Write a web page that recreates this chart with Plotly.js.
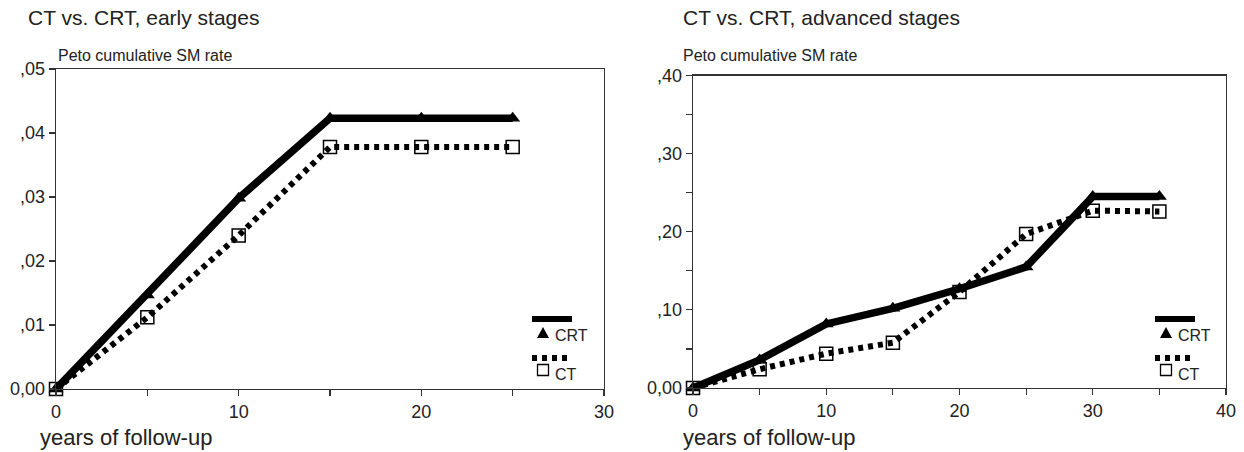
<!DOCTYPE html>
<html>
<head>
<meta charset="utf-8">
<script src="https://cdn.plot.ly/plotly-3.0.1.min.js"></script>
<style>html,body{margin:0;padding:0;background:#fff;}#chart{width:1244px;height:452px;}</style>
</head>
<body>
<div id="chart"></div>
<script>
// ---- data ----
const yearsEarly = [0, 5, 10, 15, 20, 25];
const crtEarly = [0, 0.0147, 0.0298, 0.0423, 0.0423, 0.0423];
const ctEarly  = [0, 0.0112, 0.0240, 0.0378, 0.0378, 0.0378];

const yearsAdv = [0, 5, 10, 15, 20, 25, 30, 35];
const crtAdv = [0, 0.036, 0.082, 0.102, 0.127, 0.155, 0.245, 0.245];
const ctAdv  = [0, 0.024, 0.044, 0.058, 0.123, 0.197, 0.227, 0.226];

const xTickValsEarly = [0, 5, 10, 15, 20, 25, 30];
const xTickTextEarly = ["0", "", "10", "", "20", "", "30"];
const xTickValsAdv = [0, 5, 10, 15, 20, 25, 30, 35, 40];
const xTickTextAdv = ["0", "", "10", "", "20", "", "30", "", "40"];
const yTickValsEarly = [0, 0.01, 0.02, 0.03, 0.04, 0.05];
const yTickTextEarly = ["0,00", ",01", ",02", ",03", ",04", ",05"];
const yTickValsAdv = [0, 0.05, 0.10, 0.15, 0.20, 0.25, 0.30, 0.35, 0.40];
const yTickTextAdv = ["0,00", "", ",10", "", ",20", "", ",30", "", ",40"];

const titles = ["CT vs. CRT, early stages", "CT vs. CRT, advanced stages"];
const yTitle = "Peto cumulative SM rate";
const xTitle = "years of follow-up";
const seriesNames = ["CRT", "CT"];

// ---- geometry helpers ----
const W = 1244, H = 452;
const px = x => x / W;
const py = y => 1 - y / H;
const FONT = "Liberation Sans, Arial, sans-serif";

function crtTrace(x, y, xa, ya) {
  return {x: x, y: y, xaxis: xa, yaxis: ya, type: 'scatter', mode: 'lines+markers',
    name: seriesNames[0], showlegend: false, cliponaxis: false,
    line: {color: '#000', width: 7.5},
    marker: {symbol: 'triangle-up', size: 13, color: '#000'}};
}
function ctTrace(x, y, xa, ya) {
  return {x: x, y: y, xaxis: xa, yaxis: ya, type: 'scatter', mode: 'lines+markers',
    name: seriesNames[1], showlegend: false, cliponaxis: false,
    line: {color: '#000', width: 6, dash: '5px,5px'},
    marker: {symbol: 'square-open', size: 13, color: '#000', line: {width: 1.5, color: '#000'}}};
}

const data = [
  crtTrace(yearsEarly, crtEarly, 'x', 'y'),
  ctTrace(yearsEarly, ctEarly, 'x', 'y'),
  crtTrace(yearsAdv, crtAdv, 'x2', 'y2'),
  ctTrace(yearsAdv, ctAdv, 'x2', 'y2')
];

const axisBase = {
  showline: true, mirror: true, linecolor: '#333', linewidth: 1.3,
  showgrid: false, zeroline: false, ticks: 'outside', ticklen: 6, tickwidth: 1.2, tickcolor: '#333',
  tickmode: 'array', tickfont: {family: FONT, size: 18, color: '#222'}, fixedrange: true
};

const layout = {
  width: W, height: H,
  margin: {l: 0, r: 0, t: 0, b: 0},
  paper_bgcolor: '#fff', plot_bgcolor: '#fff',
  showlegend: false,
  font: {family: FONT, color: '#222'},
  xaxis: Object.assign({}, axisBase, {domain: [px(56), px(604)], range: [0, 30], anchor: 'y',
    tickvals: xTickValsEarly, ticktext: xTickTextEarly}),
  yaxis: Object.assign({}, axisBase, {domain: [1 - 389 / H, 1 - 69 / H], range: [0, 0.05], anchor: 'x',
    tickvals: yTickValsEarly, ticktext: yTickTextEarly}),
  xaxis2: Object.assign({}, axisBase, {domain: [px(693), px(1226)], range: [0, 40], anchor: 'y2',
    tickvals: xTickValsAdv, ticktext: xTickTextAdv}),
  yaxis2: Object.assign({}, axisBase, {domain: [1 - 388 / H, 1 - 75.5 / H], range: [0, 0.40], anchor: 'x2',
    tickvals: yTickValsAdv, ticktext: yTickTextAdv}),
  annotations: [],
  shapes: []
};

function txt(x, y, text, size) {
  layout.annotations.push({xref: 'paper', yref: 'paper', x: px(x), y: py(y), text: text,
    showarrow: false, xanchor: 'left', yanchor: 'middle',
    font: {family: FONT, size: size, color: '#222'}});
}
// titles
txt(26, 18, titles[0], 21);
txt(56, 55, yTitle, 16);
txt(38, 437, xTitle, 22);
txt(681, 18, titles[1], 21);
txt(681, 55, yTitle, 16);
txt(681, 437, xTitle, 22);

// custom legends
function legend(x0) {
  layout.shapes.push({type: 'line', xref: 'paper', yref: 'paper',
    x0: px(x0), x1: px(x0 + 40), y0: py(319), y1: py(319), line: {color: '#000', width: 6}});
  layout.shapes.push({type: 'line', xref: 'paper', yref: 'paper',
    x0: px(x0), x1: px(x0 + 40), y0: py(358), y1: py(358), line: {color: '#000', width: 6, dash: '5px,5px'}});
  // triangle
  const tx = x0 + 11, ty = 333;
  layout.shapes.push({type: 'path', xref: 'paper', yref: 'paper',
    path: `M ${px(tx - 6)} ${py(ty + 5)} L ${px(tx + 6)} ${py(ty + 5)} L ${px(tx)} ${py(ty - 6)} Z`,
    fillcolor: '#000', line: {color: '#000', width: 0}});
  // square
  layout.shapes.push({type: 'rect', xref: 'paper', yref: 'paper',
    x0: px(tx - 5.5), x1: px(tx + 5.5), y0: py(370 + 5.5), y1: py(370 - 5.5),
    fillcolor: 'rgba(0,0,0,0)', line: {color: '#000', width: 1.3}});
  txt(x0 + 21, 335, seriesNames[0], 16);
  txt(x0 + 21, 374, seriesNames[1], 16);
}
legend(532);
legend(1155);

Plotly.newPlot('chart', data, layout, {staticPlot: true, displayModeBar: false});
</script>
</body>
</html>
